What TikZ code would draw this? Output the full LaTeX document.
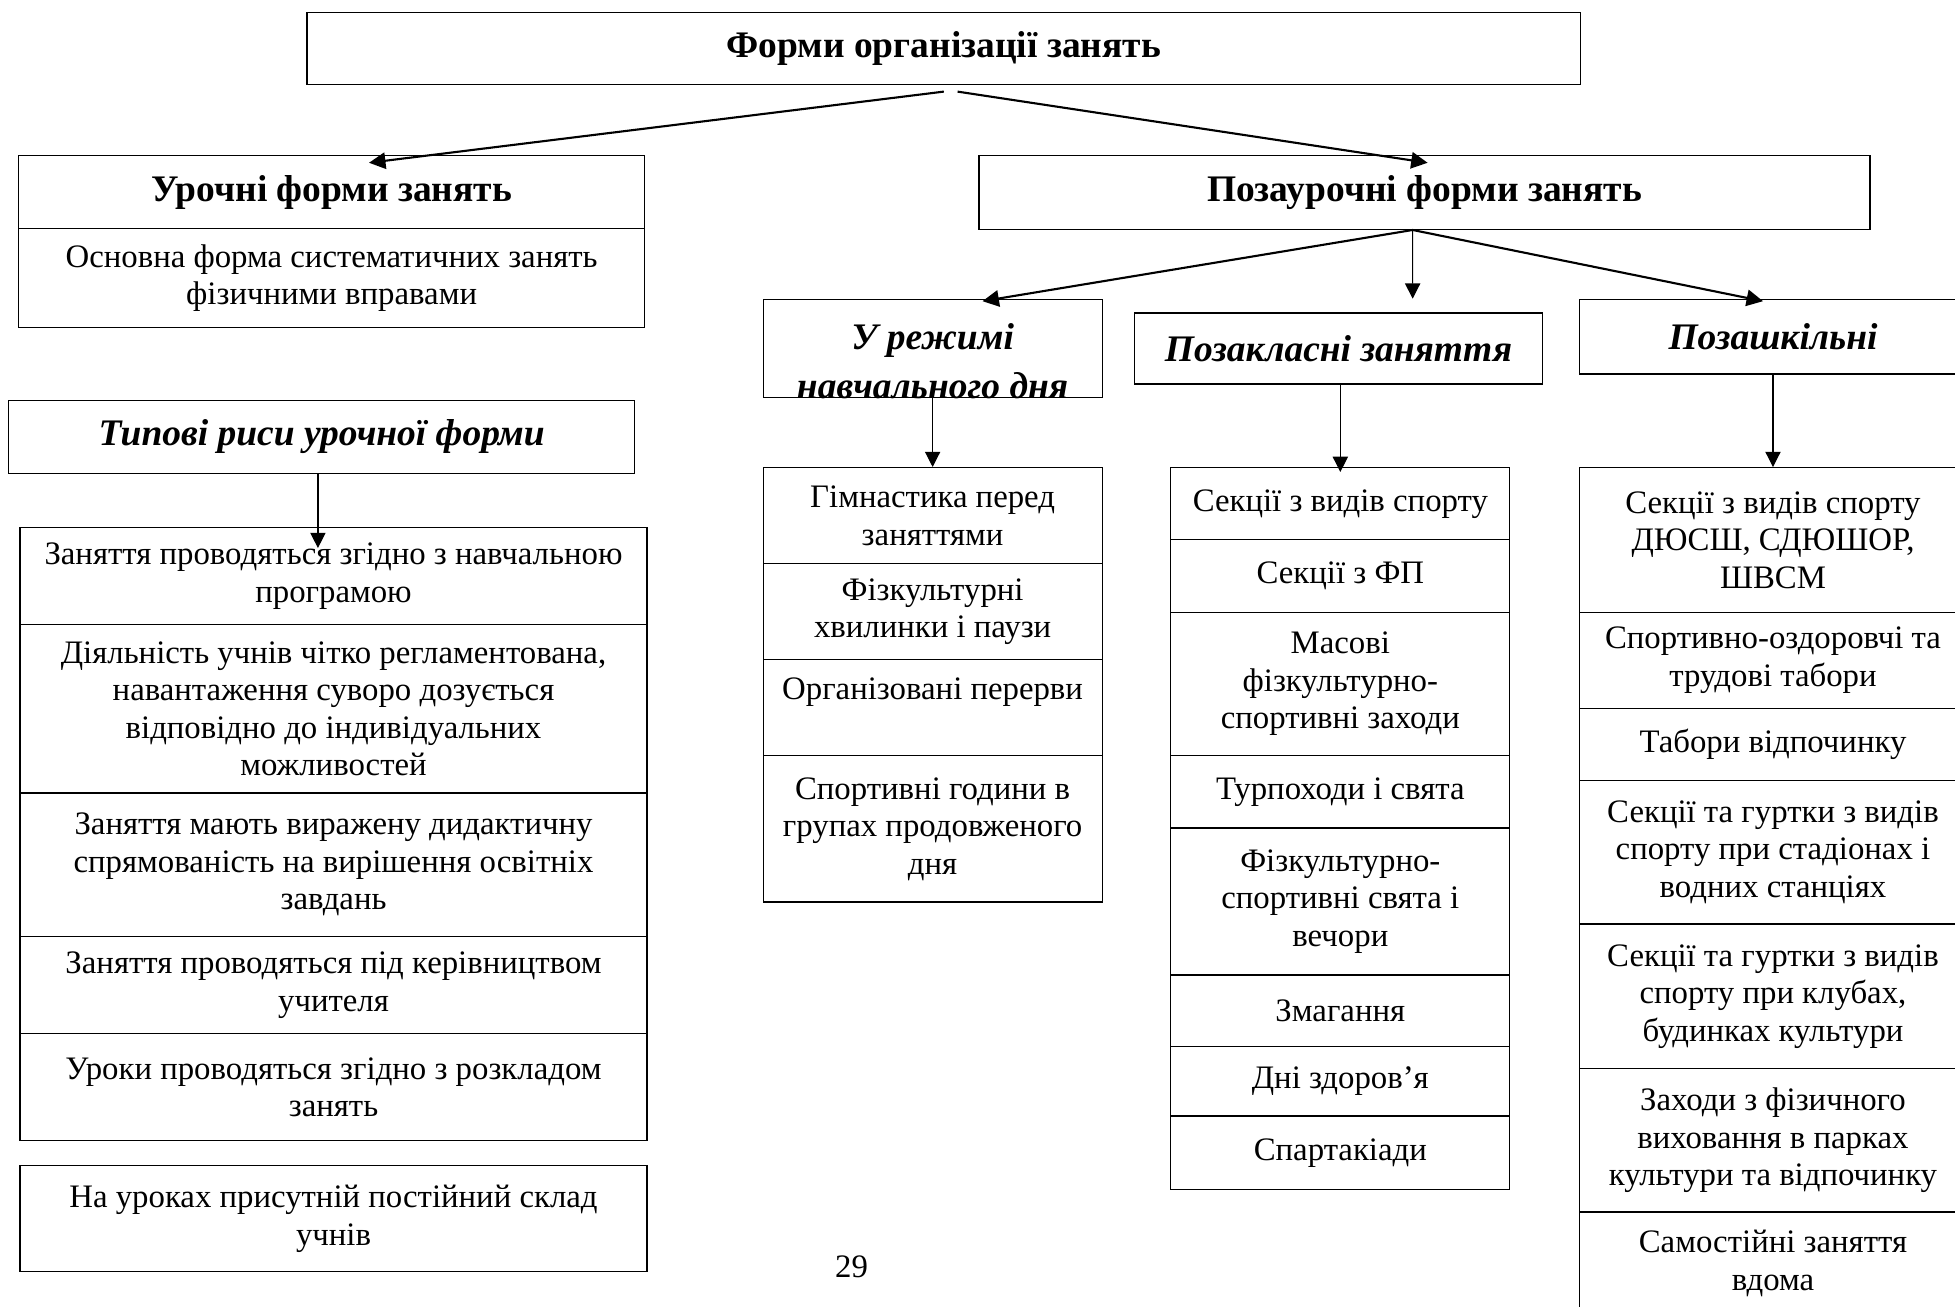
\documentclass[tikz,border=0pt]{standalone}
\usepackage{fontspec}
\setmainfont{Liberation Serif}
\usetikzlibrary{arrows.meta}

\tikzset{
    cell/.style={draw, line width=0.5pt, inner sep=0pt, align=center,
        font=\fontsize{14}{16}\selectfont},
    colL/.style={cell, minimum width=9.406cm},
    colM/.style={cell, minimum width=5.086cm},
    colS/.style={cell, minimum width=5.797cm},
    head/.style={draw, line width=0.5pt, inner sep=0pt, align=center,
        font=\fontsize{16}{19}\selectfont\bfseries},
    headit/.style={head, font=\fontsize{16}{19}\selectfont\bfseries\itshape},
    arrbold/.style={line width=0.9pt, -{Triangle[length=7pt,width=7pt]}},
    arrthin/.style={line width=0.5pt, -{Triangle[length=6.5pt,width=6.5pt]}},
}

\begin{document}
\begin{tikzpicture}[x=0.0187cm, y=-0.0187cm]
        \useasboundingbox (0,0) rectangle (1568,1048);

        % Заголовок
        \node[head, minimum width=19.11cm, minimum height=1.085cm] (forms) at (757,39) {Форми організації занять};

        % Урочні форми
        \node[head, minimum width=9.387cm, minimum height=1.085cm] (urochni) at (266,154) {Урочні форми занять};
        \node[cell, minimum width=9.387cm, minimum height=1.496cm] (urdesc) at (266,223) {Основна форма систематичних занять\\фізичними вправами};

        \node[headit, minimum width=9.387cm, minimum height=1.103cm] (tipovi) at (258,350.5) {Типові риси урочної форми};

        \node[colL, minimum height=1.459cm] (l1) at (267.5,462) {Заняття проводяться згідно з навчальною\\програмою};
        \node[colL, minimum height=2.525cm] (l2) at (267.5,568.5) {Діяльність учнів чітко регламентована,\\навантаження суворо дозується\\відповідно до індивідуальних\\можливостей};
        \node[colL, minimum height=2.151cm] (l3) at (267.5,693.5) {Заняття мають виражену дидактичну\\спрямованість на вирішення освітніх\\завдань};
        \node[colL, minimum height=1.459cm] (l4) at (267.5,790) {Заняття проводяться під керівництвом\\учителя};
        \node[colL, minimum height=1.608cm] (l5) at (267.5,872) {Уроки проводяться згідно з розкладом\\занять};
        \node[colL, minimum height=1.590cm] (l6) at (267.5,977.5) {На уроках присутній постійний склад\\учнів};

        % Позаурочні форми
        \node[head, minimum width=13.37cm, minimum height=1.103cm] (pozaur) at (1142.5,154.5) {Позаурочні форми занять};

        \node[head, minimum width=5.086cm, minimum height=1.477cm] (rezhym) at (748,279.5) {};
        \begin{scope}
            \clip (rezhym.south west) rectangle (rezhym.north east);
            \node[headit, draw=none, font=\fontsize{16}{21}\selectfont\bfseries\itshape] (rezhymtxt) at (748,289.5) {У режимі\\навчального дня};
        \end{scope}
        \node[headit, minimum width=6.115cm, minimum height=1.066cm] (pozaklas) at (1073.5,279.5) {Позакласні заняття};
        \node[headit, minimum width=5.797cm, minimum height=1.122cm] (pozashk) at (1422,270) {Позашкільні};

        \node[colM, minimum height=1.440cm] (r1) at (748,413.5) {Гімнастика перед\\заняттями};
        \node[colM, minimum height=1.440cm] (r2) at (748,490.5) {Фізкультурні\\хвилинки і паузи};
        \node[colM, minimum height=1.440cm] (r3) at (748,567.5) {Організовані перерви\\\mbox{}};
        \node[colM, minimum height=2.197cm] (r4) at (748,664.75) {Спортивні години в\\групах продовженого\\дня};

        \node[colM, minimum height=1.085cm] (k1) at (1075,404) {Секції з видів спорту};
        \node[colM, minimum height=1.085cm] (k2) at (1075,462) {Секції з ФП};
        \node[colM, minimum height=2.151cm] (k3) at (1075,548.5) {Масові\\фізкультурно-\\спортивні заходи};
        \node[colM, minimum height=1.085cm] (k4) at (1075,635) {Турпоходи і свята};
        \node[colM, minimum height=2.207cm] (k5) at (1075,723) {Фізкультурно-\\спортивні свята і\\вечори};
        \node[colM, minimum height=1.066cm] (k6) at (1075,810.5) {Змагання};
        \node[colM, minimum height=1.047cm] (k7) at (1075,867) {Дні здоров’я};
        \node[colM, minimum height=1.103cm] (k8) at (1075,924.5) {Спартакіади};

        \node[colS, minimum height=2.169cm] (s1) at (1422,433) {Секції з видів спорту\\ДЮСШ, СДЮШОР,\\ШВСМ};
        \node[colS, minimum height=1.440cm] (s2) at (1422,529.5) {Спортивно-оздоровчі та\\трудові табори};
        \node[colS, minimum height=1.085cm] (s3) at (1422,597) {Табори відпочинку};
        \node[colS, minimum height=2.151cm] (s4) at (1422,683.5) {Секції та гуртки з видів\\спорту при стадіонах і\\водних станціях};
        \node[colS, minimum height=2.169cm] (s5) at (1422,799) {Секції та гуртки з видів\\спорту при клубах,\\будинках культури};
        \node[colS, minimum height=2.151cm] (s6) at (1422,914.5) {Заходи з фізичного\\виховання в парках\\культури та відпочинку};
        \node[colS, minimum height=1.552cm] (s7) at (1422,1013.5) {Самостійні заняття\\вдома};

        \node[font=\fontsize{14}{16}\selectfont] (page) at (683,1016) {29};

        % Стрілки
        \draw[arrbold] ([shift={(0,5)}]forms.south) -- ([shift={(30,6)}]urochni.north);
        \draw[arrbold] ([shift={(11,5)}]forms.south) -- ([shift={(2.5,6)}]pozaur.north);

        \coordinate (fan) at ([shift={(-9.5,0)}]pozaur.south);
        \draw[arrbold] (fan) -- ([shift={(40,2)}]rezhym.north);
        \draw[arrthin] (fan) -- ([shift={(59.5,-11)}]pozaklas.north);
        \draw[arrbold] (fan) -- ([shift={(-8,2)}]pozashk.north);

        \draw[arrthin] ([shift={(-3,0)}]tipovi.south) -- ([shift={(-12.5,17)}]l1.north);
        \draw[arrthin] (rezhym.south) -- (r1.north);
        \draw[arrthin] (k1.north |- pozaklas.south) -- ([shift={(0,4)}]k1.north);
        \draw[arrthin] (pozashk.south) -- (s1.north);
    \end{tikzpicture}
\end{document}
